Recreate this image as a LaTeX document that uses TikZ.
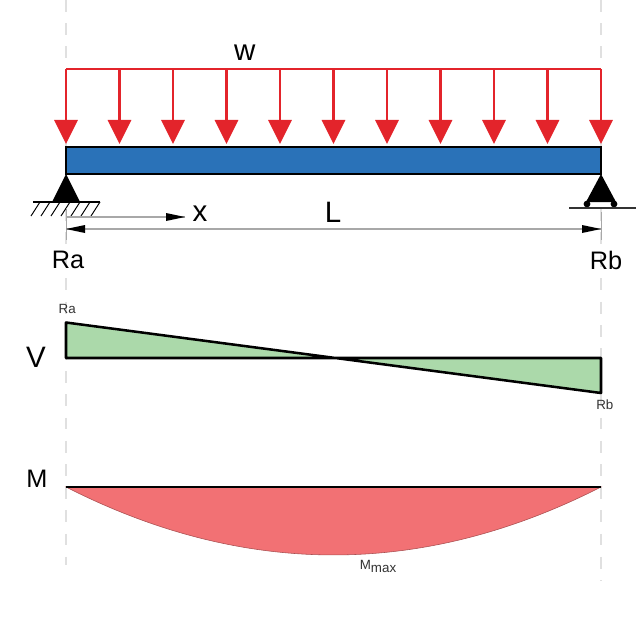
\documentclass[tikz,border=0pt]{standalone}
\usepackage{fontspec}
\setmainfont{Liberation Sans}
\usetikzlibrary{arrows.meta}
\definecolor{my blue}{HTML}{2A72B8}
\definecolor{my red}{HTML}{E3242B}
\definecolor{my green}{HTML}{ABD9AA}
\definecolor{my pink}{HTML}{F27174}
\definecolor{my grey}{HTML}{A8A8A8}
\definecolor{my guide}{HTML}{E0E0E0}
\tikzset{
    load/.style = {my red, line width = 1.6pt, -{Triangle[length = 0.6cm, width = 0.58cm]}},
    guide/.style = {my guide, line width = 0.9pt, dash pattern = on 8.5pt off 8pt},
    tick/.style = {my grey, line width = 0.7pt},
    dimension/.style = {my grey, line width = 0.8pt},
    outline/.style = {black, line width = 1.8pt},
    big label/.style = {font = \fontsize{18}{20}\selectfont, inner sep = 0pt},
    letter label/.style = {font = \fontsize{21}{23}\selectfont, inner sep = 0pt},
    small label/.style = {font = \fontsize{9.5}{11}\selectfont, text = black!80, inner sep = 0pt}
}

\begin{document}
\begin{tikzpicture}
                \useasboundingbox (0, 0) rectangle (16.025, -15.45);
                \draw [guide] (1.65, 0) -- (1.65, -14.125);
                \draw [guide] (15.025, 0) -- (15.025, -14.5);
                \draw [my red, line width = 1.6pt] (1.65, -1.725) -- (15.025, -1.725);
                \draw [load] (1.65, -1.725) -- (1.65, -3.6);
                \draw [load] (2.9875, -1.725) -- (2.9875, -3.6);
                \draw [load] (4.325, -1.725) -- (4.325, -3.6);
                \draw [load] (5.6625, -1.725) -- (5.6625, -3.6);
                \draw [load] (7, -1.725) -- (7, -3.6);
                \draw [load] (8.3375, -1.725) -- (8.3375, -3.6);
                \draw [load] (9.675, -1.725) -- (9.675, -3.6);
                \draw [load] (11.0125, -1.725) -- (11.0125, -3.6);
                \draw [load] (12.35, -1.725) -- (12.35, -3.6);
                \draw [load] (13.6875, -1.725) -- (13.6875, -3.6);
                \draw [load] (15.025, -1.725) -- (15.025, -3.6);
                \draw [outline, fill = my blue] (1.65, -3.675) rectangle (15.025, -4.35);
                \fill [black] (1.65, -4.35) -- (2, -5.05) -- (1.3, -5.05) -- cycle;
                \draw [black, line width = 0.9pt] (0.825, -5.05) -- (2.5, -5.05);
                \draw [black, line width = 0.7pt] (1, -5.05) -- ++ (-0.225, -0.35);
                \draw [black, line width = 0.7pt] (1.25, -5.05) -- ++ (-0.225, -0.35);
                \draw [black, line width = 0.7pt] (1.5, -5.05) -- ++ (-0.225, -0.35);
                \draw [black, line width = 0.7pt] (1.75, -5.05) -- ++ (-0.225, -0.35);
                \draw [black, line width = 0.7pt] (2, -5.05) -- ++ (-0.225, -0.35);
                \draw [black, line width = 0.7pt] (2.25, -5.05) -- ++ (-0.225, -0.35);
                \draw [black, line width = 0.7pt] (2.5, -5.05) -- ++ (-0.225, -0.35);
                \fill [black] (15.025, -4.35) -- (15.4, -5.05) -- (14.65, -5.05) -- cycle;
                \fill [black] (14.675, -5.1) circle [radius = 0.085];
                \fill [black] (15.35, -5.1) circle [radius = 0.085];
                \draw [black!80, line width = 0.9pt] (14.225, -5.2) -- (15.9, -5.2);
                \draw [tick] (1.65, -5.2) -- (1.65, -6);
                \draw [tick] (15.025, -5.3) -- (15.025, -6);
                \coordinate (x start) at (1.65, -5.425);
                \coordinate (x end) at (4.625, -5.425);
                \coordinate (L start) at (1.65, -5.725);
                \coordinate (L end) at (15.025, -5.725);
                \draw [dimension] (x start) -- (x end);
                \fill [black] (x end) -- ++ (-0.475, 0.1) -- ++ (0, -0.2) -- cycle;
                \draw [dimension] (L start) -- (L end);
                \fill [black] (L start) -- ++ (0.475, 0.1) -- ++ (0, -0.2) -- cycle;
                \fill [black] (L end) -- ++ (-0.475, 0.1) -- ++ (0, -0.2) -- cycle;
                \node [letter label] (w label) at (6.12, -1.32) {w};
                \node [letter label] (x label) at (5, -5.35) {x};
                \node [letter label] (L label) at (8.325, -5.3) {L};
                \node [big label] (Ra label) at (1.7, -6.5) {Ra};
                \node [big label] (Rb label) at (15.15, -6.5) {Rb};
                \fill [my green] (1.65, -8.0625) -- (1.65, -8.95) -- (8.38, -8.95) -- cycle;
                \fill [my green] (15.025, -9.825) -- (15.025, -8.95) -- (8.38, -8.95) -- cycle;
                \draw [outline, line join = round] (1.65, -8.95) -- (1.65, -8.0625) -- (15.025, -9.825) -- (15.025, -8.95) -- cycle;
                \node [small label] (Ra top) at (1.68, -7.72) {Ra};
                \node [small label] (Rb bottom) at (15.12, -10.13) {Rb};
                \node [letter label] (V label) at (0.9, -8.93) {V};
                \node [big label] (M label) at (0.92, -11.98) {M};
                \draw [fill = my pink, draw = my pink!70!black, line width = 0.4pt] (1.65, -12.175) .. controls (6.1, -14.44) and (10.58, -14.44) .. (15.025, -12.175) -- cycle;
                \draw [outline] (1.65, -12.175) -- (15.025, -12.175);
                \node [small label] (M max) at (9.45, -14.17) {M\raisebox{-2pt}{max}};
            \end{tikzpicture}
\end{document}
